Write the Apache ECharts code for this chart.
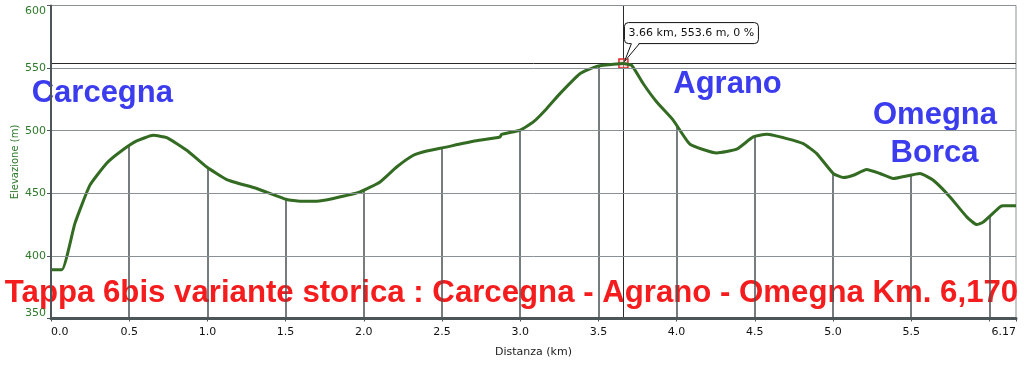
<!DOCTYPE html>
<html>
<head>
<meta charset="utf-8">
<script src="https://cdn.jsdelivr.net/npm/echarts@6/dist/echarts.min.js"></script>
<style>html,body{margin:0;padding:0;background:#fff}#c{width:1024px;height:367px}</style>
</head>
<body>
<div id="c"></div>
<script>
// Distance (km) and elevation (m) read from the profile
const distKm = [0, 0.07, 0.153, 0.249, 0.356, 0.441, 0.548, 0.654, 0.74, 0.868, 0.996, 1.123, 1.315, 1.507, 1.592, 1.699, 1.805, 1.976, 2.104, 2.21, 2.317, 2.402, 2.509, 2.7, 2.871, 2.88, 3.0, 3.084, 3.169, 3.254, 3.382, 3.489, 3.595, 3.66, 3.713, 3.787, 3.873, 3.979, 4.086, 4.256, 4.384, 4.49, 4.576, 4.704, 4.81, 4.896, 5.002, 5.066, 5.13, 5.215, 5.3, 5.385, 5.556, 5.641, 5.748, 5.855, 5.919, 5.96, 6.068, 6.09, 6.17];
const elevM = [389, 389, 426, 456.5, 474, 483, 491.8, 496.3, 494.5, 484.4, 471, 461, 453.8, 445, 443.7, 443.7, 445.9, 451.1, 459.1, 471, 480.4, 483.8, 486.5, 491.5, 495, 497, 500.5, 507, 517.6, 529.6, 545.5, 551.4, 553, 553.6, 552.2, 537.5, 522.9, 508.3, 489.2, 482.2, 485.2, 495, 497.1, 493.7, 489.7, 481.7, 465.8, 462.6, 464.4, 469, 465.8, 461.8, 465.8, 460.4, 447.1, 431.2, 425, 427, 439.2, 440, 440];
const xTicks = [0.5, 1.0, 1.5, 2.0, 2.5, 3.0, 3.5, 4.0, 4.5, 5.0, 5.5, 6.0];
const yTicks = [350, 400, 450, 500, 550, 600];
const peakKm = 3.66, peakM = 553.6, peakGrade = 0;
const totalKm = 6.17;
const placeLabels = ['Carcegna', 'Agrano', 'Omegna', 'Borca'];
const titleText = 'Tappa 6bis variante storica : Carcegna - Agrano - Omegna Km. 6,170';

function elevAt(km) {
  for (let i = 1; i < distKm.length; i++) {
    if (km <= distKm[i]) {
      const t = (km - distKm[i - 1]) / (distKm[i] - distKm[i - 1]);
      return elevM[i - 1] + t * (elevM[i] - elevM[i - 1]);
    }
  }
  return elevM[elevM.length - 1];
}

const profile = distKm.map((d, i) => [d, elevM[i]]);
const dropLines = xTicks.map(t => [{coord: [t, yTicks[0]]}, {coord: [t, elevAt(t)]}]);

const chart = echarts.init(document.getElementById('c'));
const FONT = 'DejaVu Sans';
const option = {
  animation: false,
  grid: {left: 51, right: 8, top: 5.5, bottom: 48.5, show: true, borderColor: '#8a9194', borderWidth: 1,
    containLabel: false, outerBoundsMode: 'none'},
  xAxis: {
    type: 'value', min: 0, max: totalKm, interval: 0.5, z: 10,
    name: 'Distanza (km)', nameLocation: 'middle', nameGap: 28, nameMoveOverlap: false,
    nameTextStyle: {color: '#222', fontFamily: FONT, fontSize: 11},
    axisLine: {lineStyle: {color: '#4c5558', width: 3}},
    axisTick: {show: true, length: 3, lineStyle: {color: '#4c5558'}},
    splitLine: {show: false},
    axisLabel: {
      color: '#111', fontFamily: FONT, fontSize: 11, margin: 8,
      alignMinLabel: 'left', alignMaxLabel: 'right',
      formatter: v => (Math.abs(v - totalKm) < 1e-6 ? totalKm.toFixed(2) : (Math.abs(v - 6) < 1e-6 ? '' : v.toFixed(1)))
    }
  },
  yAxis: {
    type: 'value', min: yTicks[0], max: yTicks[yTicks.length - 1], interval: 50, z: 10,
    name: 'Elevazione (m)', nameLocation: 'middle', nameGap: 31, nameMoveOverlap: false,
    nameTextStyle: {color: '#2e7a2a', fontFamily: FONT, fontSize: 10},
    axisLine: {show: true, lineStyle: {color: '#4c5558', width: 2}},
    axisTick: {show: true, length: 4, lineStyle: {color: '#4c5558'}},
    splitLine: {show: true, lineStyle: {color: '#8a9194', width: 1}},
    axisLabel: {color: '#2e7a2a', fontFamily: FONT, fontSize: 11, margin: 5,
      verticalAlignMinLabel: 'bottom', verticalAlignMaxLabel: 'top'}
  },
  series: [{
    type: 'line', data: profile, showSymbol: false, smooth: 0.15, z: 5,
    lineStyle: {color: '#336b22', width: 3},
    markLine: {
      silent: true, symbol: 'none', animation: false,
      label: {show: false},
      lineStyle: {color: '#4a5255', width: 1.5, type: 'solid'},
      data: dropLines.concat([
        {xAxis: peakKm, lineStyle: {color: '#2a2a2a', width: 1}},
        {yAxis: peakM, lineStyle: {color: '#2a2a2a', width: 1}}
      ])
    },
    markPoint: {
      silent: true, animation: false,
      symbol: 'rect', symbolSize: 9,
      itemStyle: {color: 'rgba(255,190,190,0.5)', borderColor: '#e02828', borderWidth: 1.5},
      label: {show: false},
      data: [{coord: [peakKm, peakM]}]
    }
  }]
};
chart.setOption(option);

const p = chart.convertToPixel({gridIndex: 0}, [peakKm, peakM]);
const bx = p[0] + 1, by = p[1] - 41, bw = 134, bh = 21;
const blue = '#3c3cef';
const bigFont = 'bold 31px "Liberation Sans", Arial, sans-serif';
const titleFont = 'bold 31.2px "Liberation Sans", Arial, sans-serif';
chart.setOption({
  graphic: [
    {type: 'text', z: 1, style: {text: placeLabels[0], x: 31.7, y: 93, font: bigFont, fill: blue, textAlign: 'left', textVerticalAlign: 'middle'}},
    {type: 'text', z: 1, style: {text: placeLabels[1], x: 727.5, y: 84, font: bigFont, fill: blue, textAlign: 'center', textVerticalAlign: 'middle'}},
    {type: 'text', z: 1, style: {text: placeLabels[2], x: 935, y: 115, font: bigFont, fill: blue, textAlign: 'center', textVerticalAlign: 'middle'}},
    {type: 'text', z: 1, style: {text: placeLabels[3], x: 934.5, y: 153, font: bigFont, fill: blue, textAlign: 'center', textVerticalAlign: 'middle'}},
    {type: 'text', z: 1, style: {text: titleText, x: 511.5, y: 293.5, font: titleFont, fill: '#f41c1c', textAlign: 'center', textVerticalAlign: 'middle'}},
    {type: 'rect', z: 50, shape: {x: bx, y: by, width: bw, height: bh, r: 4}, style: {fill: '#fff', stroke: '#111', lineWidth: 1}},
    {type: 'polygon', z: 51, shape: {points: [[p[0] + 8, by + bh - 1], [p[0] + 16, by + bh - 1], [p[0] + 1, p[1] - 1]]}, style: {fill: '#fff', stroke: null}},
    {type: 'polyline', z: 52, shape: {points: [[p[0] + 8, by + bh], [p[0] + 1, p[1] - 2], [p[0] + 16, by + bh]]}, style: {stroke: '#111', lineWidth: 1, fill: null}},
    {type: 'text', z: 53, style: {text: peakKm.toFixed(2) + ' km, ' + peakM.toFixed(1) + ' m, ' + peakGrade + ' %', x: bx + bw / 2, y: by + bh / 2 + 0.5, font: '11px "DejaVu Sans"', fill: '#111', textAlign: 'center', textVerticalAlign: 'middle'}}
  ]
});
</script>
</body>
</html>
